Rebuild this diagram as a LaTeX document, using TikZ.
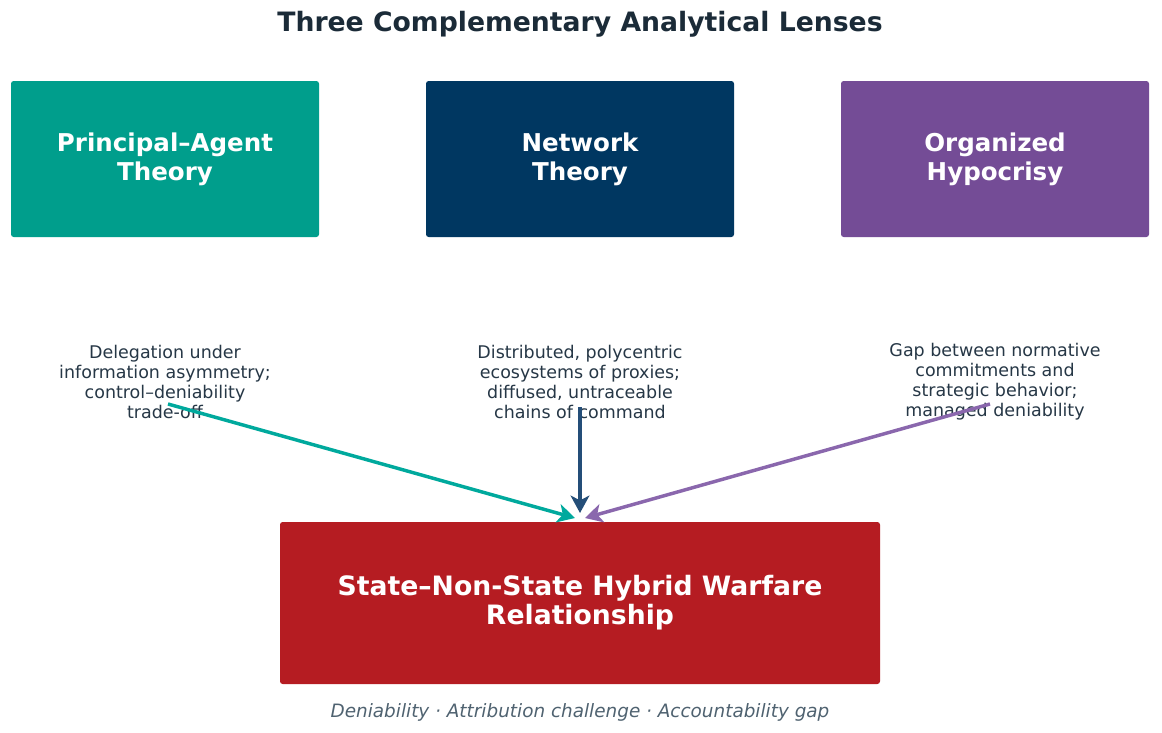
\documentclass[tikz,border=0pt]{standalone}
\usepackage{fontspec}
\setmainfont{DejaVu Sans}
\usetikzlibrary{arrows.meta}
\definecolor{lensteal}{HTML}{009E8C}
\definecolor{lensnavy}{HTML}{003761}
\definecolor{lenspurple}{HTML}{744C96}
\definecolor{hybridred}{HTML}{B51C22}
\definecolor{titleink}{HTML}{1B2B38}
\definecolor{descink}{HTML}{263746}
\definecolor{capink}{HTML}{4F6270}
\definecolor{arrteal}{HTML}{00A99D}
\definecolor{arrnavy}{HTML}{244E78}
\definecolor{arrpurple}{HTML}{8A67AD}
\tikzset{
  lens/.style={rounded corners=2pt, minimum width=308*0.75pt, minimum height=156*0.75pt,
    text=white, align=center, font=\fontsize{18.4}{21.75}\selectfont\bfseries},
  desc/.style={align=center, text=descink, font=\fontsize{13.1}{15}\selectfont},
  feed/.style={line width=2.6pt, -{Stealth[length=13pt,width=14pt,inset=3.5pt]}},
}
\begin{document}
\begin{tikzpicture}[x=0.75pt,y=-0.75pt]
\path[use as bounding box,fill=white] (0,0) rectangle (1162,732);
\node[text=titleink,font=\fontsize{20}{24}\selectfont\bfseries] (title) at (580,24) {Three Complementary Analytical Lenses};
% lenses
\node[lens,fill=lensteal] (pa) at (165,159) {Principal–Agent\\Theory};
\node[lens,fill=lensnavy] (nt) at (580,159) {Network\\Theory};
\node[lens,fill=lenspurple] (oh) at (995,159) {Organized\\Hypocrisy};
\node[desc] (padesc) at (165,382) {Delegation under\\information asymmetry;\\control–deniability\\trade-off};
\node[desc] (ntdesc) at (580,382) {Distributed, polycentric\\ecosystems of proxies;\\diffused, untraceable\\chains of command};
\node[desc] (ohdesc) at (995,382) {Gap between normative\\commitments and\\strategic behavior;\\managed deniability};
% hybrid relationship
\node[rounded corners=2pt,fill=hybridred,minimum width=600*0.75pt,minimum height=162*0.75pt,
  text=white,align=center,font=\fontsize{20}{21.75}\selectfont\bfseries] (hw) at (580,603)
  {State–Non-State Hybrid Warfare\\Relationship};
\node[text=capink,font=\fontsize{13.8}{16}\selectfont\itshape] (cap) at (580,712)
  {Deniability · Attribution challenge · Accountability gap};
% arrows
\coordinate (paout) at (168,404);
\coordinate (ntout) at (580,407);
\coordinate (ohout) at (990,404);
\coordinate (pain) at (575,518);
\coordinate (ntin) at (580,513);
\coordinate (ohin) at (585,518);
\draw[feed,arrteal] (paout) -- (pain);
\draw[feed,arrnavy] (ntout) -- (ntin);
\draw[feed,arrpurple] (ohout) -- (ohin);
\end{tikzpicture}
\end{document}
